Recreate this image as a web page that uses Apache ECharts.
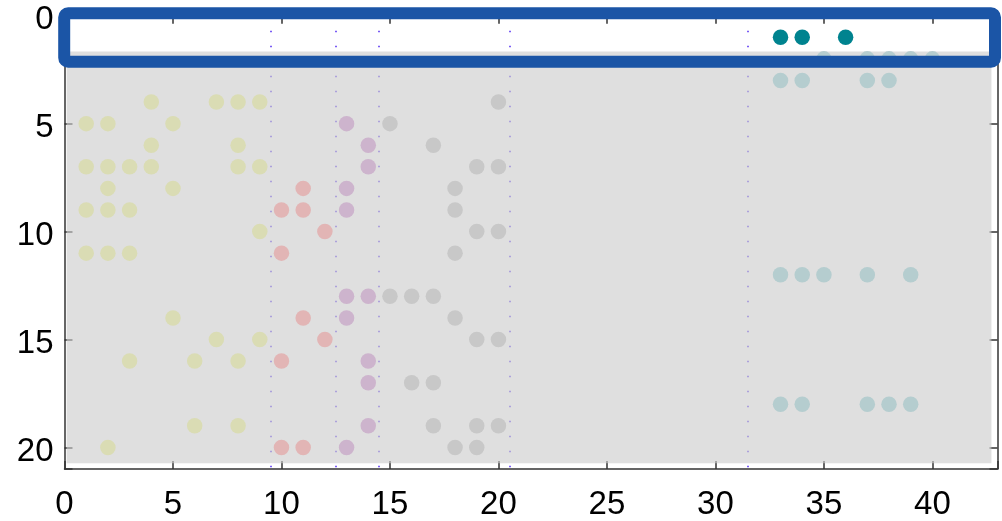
<!DOCTYPE html>
<html><head><meta charset="utf-8">
<script src="https://cdn.jsdelivr.net/npm/echarts@6/dist/echarts.min.js"></script>
<style>html,body{margin:0;padding:0;background:#fff}#c{width:1002px;height:521px}</style>
</head><body><div id="c"></div>
<script>
// x ticks / y ticks
const xTicks = [0, 5, 10, 15, 20, 25, 30, 35, 40];
const yTicks = [0, 5, 10, 15, 20];
// group separators (dotted lines)
const separators = [9.5, 12.5, 14.5, 20.5, 31.5];
// points [column, row]
const yellowPts = [[4,4],[7,4],[8,4],[9,4],[1,5],[2,5],[5,5],[4,6],[8,6],[1,7],[2,7],[3,7],[4,7],[8,7],[9,7],[2,8],[5,8],[1,9],[2,9],[3,9],[9,10],[1,11],[2,11],[3,11],[5,14],[7,15],[9,15],[3,16],[6,16],[8,16],[6,19],[8,19],[2,20]];
const pinkPts = [[11,8],[10,9],[11,9],[12,10],[10,11],[11,14],[12,15],[10,16],[10,20],[11,20]];
const purplePts = [[13,5],[14,6],[14,7],[13,8],[13,9],[13,13],[14,13],[13,14],[14,16],[14,17],[14,19],[13,20]];
const grayPts = [[20,4],[15,5],[17,6],[19,7],[20,7],[18,8],[18,9],[19,10],[20,10],[18,11],[15,13],[16,13],[17,13],[18,14],[19,15],[20,15],[16,17],[17,17],[17,19],[19,19],[20,19],[18,20],[19,20]];
const tealPts = [[35,2],[37,2],[38,2],[39,2],[40,2],[33,3],[34,3],[37,3],[38,3],[33,12],[34,12],[35,12],[37,12],[39,12],[33,18],[34,18],[37,18],[38,18],[39,18]];
const highlightPts = [[33,1],[34,1],[36,1]];

const FONT = 'Liberation Sans';
const axisCommon = {
  type: 'value',
  splitLine: { show: false },
  axisLine: { show: true, onZero: false, lineStyle: { color: '#333', width: 1.5 } },
  axisTick: { show: true, inside: true, length: 8, lineStyle: { color: '#333', width: 1.5 } }
};
const chart = echarts.init(document.getElementById('c'), null, { renderer: 'canvas' });
function pts(name, data, color, z) {
  return { name, type: 'scatter', data, symbol: 'circle', symbolSize: 15.5, z: z || 3,
    itemStyle: { color, opacity: 1 }, silent: true, animation: false };
}
chart.setOption({
  animation: false,
  backgroundColor: '#fff',
  grid: { left: 64.5, right: 4.5, top: 15.7, bottom: 50, containLabel: false },
  xAxis: [
    Object.assign({}, axisCommon, { position: 'bottom', min: 0, max: 43, interval: 5,
      axisLabel: { fontSize: 33, fontFamily: FONT, color: '#000', margin: 19,
        formatter: v => xTicks.includes(v) ? String(v) : '' } }),
    Object.assign({}, axisCommon, { position: 'top', min: 0, max: 43, interval: 5,
      axisLabel: { show: false } })
  ],
  yAxis: [
    Object.assign({}, axisCommon, { position: 'left', inverse: true, min: 0, max: 21, interval: 5,
      axisLabel: { fontSize: 33, fontFamily: FONT, color: '#000', margin: 11,
        verticalAlign: 'top', lineHeight: 9,
        formatter: v => yTicks.includes(v) ? String(v) : '' } }),
    Object.assign({}, axisCommon, { position: 'right', inverse: true, min: 0, max: 21, interval: 5,
      axisLabel: { show: false } })
  ],
  series: [
    { name: 'separators', type: 'scatter', data: [], silent: true,
      markLine: { z: 1, silent: true, symbol: 'none', label: { show: false },
        lineStyle: { color: '#7a5cf5', width: 2, type: [1.5, 13.5] },
        data: separators.map(x => ({ xAxis: x })) } },
    { name: 'shade', type: 'scatter', data: [], silent: true,
      markArea: { z: 1.5, silent: true, itemStyle: { color: 'rgba(203,203,203,0.62)' },
        data: [[{ coord: [0.1, 1.66] }, { coord: [42.72, 20.73] }]] } },
    pts('yellow', yellowPts, '#dadcb4'),
    pts('pink', pinkPts, '#e2b5b5'),
    pts('purple', purplePts, '#cdb4cd'),
    pts('gray', grayPts, '#c8c8c8'),
    pts('teal', tealPts, '#b5cdcf'),
    pts('highlight', highlightPts, '#00838f')
  ],
  graphic: [
    { type: 'rect', z: 100, silent: true,
      shape: { x: 64.2, y: 13.3, width: 930.8, height: 48.4, r: 4 },
      style: { fill: 'none', stroke: '#1b55a6', lineWidth: 12 } }
  ]
});
</script></body></html>
